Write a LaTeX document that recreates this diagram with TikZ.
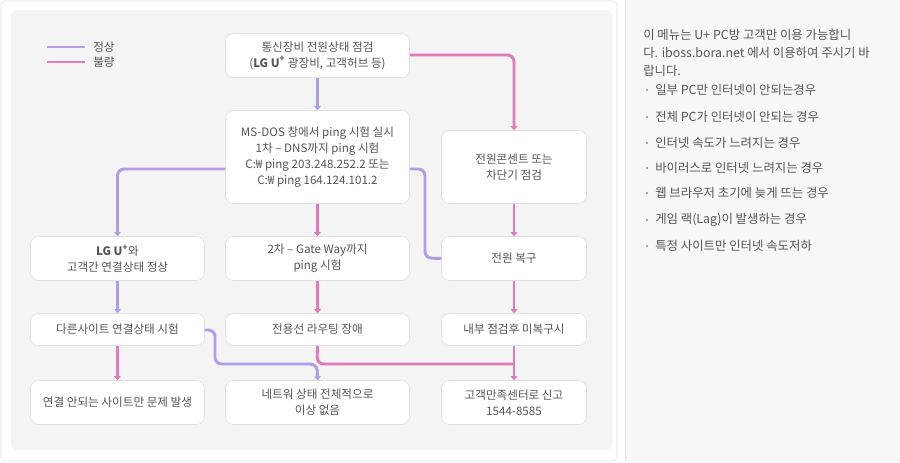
\documentclass[tikz,border=0pt]{standalone}
\usepackage{fontspec}
\setmainfont{Noto Sans CJK KR}
\usetikzlibrary{arrows.meta}
\definecolor{pur}{HTML}{B49BE8}
\definecolor{pnk}{HTML}{E07AB8}
\definecolor{txt}{HTML}{555555}
\tikzset{
 box/.style={draw=black!12,fill=white,rounded corners=6pt,align=center,text=txt,font=\fontsize{8.7}{11.8}\selectfont,inner sep=0pt},
 ok/.style={pur,line width=2.2pt,rounded corners=5pt,-{Triangle[length=3pt,width=5pt]}},
 bad/.style={pnk,line width=2.2pt,rounded corners=5pt,-{Triangle[length=3pt,width=5pt]}},
 side/.style={anchor=west,text=txt,font=\fontsize{9.3}{11}\selectfont,inner sep=0pt},
}
\begin{document}
\begin{tikzpicture}[x=0.75pt,y=-0.75pt]
\useasboundingbox (0,0) rectangle (900,462);
\fill[white] (0,0) rectangle (900,462);
\draw[black!10,rounded corners=3pt] (1,1) rectangle (617,461);
\fill[black!4.5,rounded corners=4pt] (11,10) rectangle (612,450);
\fill[black!3] (625,0) rectangle (900,462);
\draw[black!10] (625,0) -- (625,462);
% legend
\draw[pur,line width=2.2pt] (47,47) -- (85,47);
\draw[pnk,line width=2.2pt] (47,62) -- (85,62);
\node[side,font=\fontsize{8.7}{10}\selectfont] (l1) at (93,47) {정상};
\node[side,font=\fontsize{8.7}{10}\selectfont] (l2) at (93,62) {불량};
% boxes
\newcommand{\bx}[6]{\node[box,minimum width=#4*0.75pt-0.75pt,minimum height=#5*0.75pt-0.75pt] (#1) at (#2,#3) {#6};}
\bx{b1}{317.5}{55.5}{185}{45}{통신장비 전원상태 점검\\({\bfseries LG U\textsuperscript{+}} 광장비, 고객허브 등)}
\bx{b2}{317.5}{157}{185}{94}{MS-DOS 창에서 ping 시험 실시\\1차 – DNS까지 ping 시험\\C:₩ ping 203.248.252.2 또는\\C:₩ ping 164.124.101.2}
\bx{b3}{514}{167}{146}{74}{전원콘센트 또는\\차단기 점검}
\bx{b4}{117.5}{258.5}{175}{45}{{\bfseries LG U\textsuperscript{+}}와\\고객간 연결상태 정상}
\bx{b5}{317.5}{258.5}{185}{45}{2차 – Gate Way까지\\ping 시험}
\bx{b6}{514}{258.5}{146}{45}{전원 복구}
\bx{b7}{117.5}{329.5}{175}{33}{다른사이트 연결상태 시험}
\bx{b8}{317.5}{329.5}{185}{33}{전용선 라우팅 장애}
\bx{b9}{514}{329.5}{146}{33}{내부 점검후 미복구시}
\bx{b10}{117.5}{402.5}{175}{45}{연결 안되는 사이트만 문제 발생}
\bx{b11}{317.5}{402.5}{185}{45}{네트워 상태 전체적으로\\이상 없음}
\bx{b12}{514}{402.5}{146}{45}{고객만족센터로 신고\\1544-8585}
% connectors
\draw[ok] (b1) -- (b2);
\draw[bad] (b1.east |- 0,55) -| (b3.north);
\draw[ok] (b2.west |- 0,169) -| (b4.north);
\draw[ok,-] (b2.east |- 0,169) -| (425,258) -- (b6.west);
\draw[bad] (b2) -- (b5);
\draw[bad] (b3) -- (b6);
\draw[ok] (b4) -- (b7);
\draw[bad] (b7) -- (b10);
\draw[bad] (b5) -- (b8);
\draw[bad] (b6) -- (b9);
\draw[ok] (b7.east |- 0,330) -- (215,330) -- (215,364) -- (317,364) -- (b11.north);
\draw[pnk,line width=2.2pt,rounded corners=5pt] (b8.south) -- (317,364) -- (514,364);
\draw[bad] (b9) -- (b12);
% side text
\node[side] (s1) at (643,35) {이 메뉴는 U+ PC방 고객만 이용 가능합니};
\node[side] (s2) at (643,53) {다. iboss.bora.net 에서 이용하여 주시기 바};
\node[side] (s3) at (643,71) {랍니다.};
\foreach \y/\t [count=\i] in {90/일부 PC만 인터넷이 안되는경우,117/전체 PC가 인터넷이 안되는 경우,143/인터넷 속도가 느려지는 경우,168/바이러스로 인터넷 느려지는 경우,193/웹 브라우저 초기에 늦게 뜨는 경우,220/게임 랙(Lag)이 발생하는 경우,246/특정 사이트만 인터넷 속도저하}{
 \fill[black!35] (646,\y-1) rectangle (648,\y+1);
 \node[side] (t\i) at (655,\y) {\t};
}
\end{tikzpicture}
\end{document}
